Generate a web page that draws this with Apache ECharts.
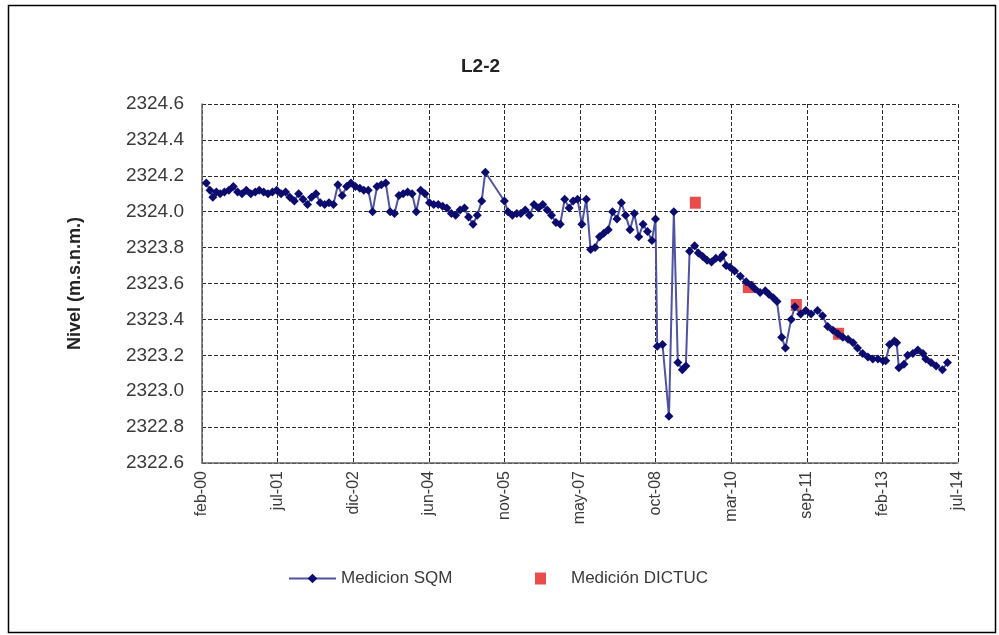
<!DOCTYPE html>
<html>
<head>
<meta charset="utf-8">
<script src="https://cdn.jsdelivr.net/npm/echarts@6/dist/echarts.min.js"></script>
<style>
  html, body { margin: 0; padding: 0; background: #fff; }
  #chart { width: 999px; height: 635px; }
</style>
</head>
<body>
<div id="chart"></div>
<script>
// Water level at well L2-2 (m.s.n.m.)
const sqmDates = [
  '2000-03-10','2000-04-05','2000-04-25','2000-05-20','2000-06-15','2000-07-15','2000-08-15','2000-09-15','2000-10-15','2000-11-15','2000-12-15',
  '2001-01-15','2001-02-15','2001-03-15','2001-04-15','2001-05-15','2001-06-15','2001-07-15','2001-08-15','2001-09-15','2001-10-15','2001-11-15','2001-12-15',
  '2002-01-15','2002-02-15','2002-03-15','2002-04-15','2002-05-15','2002-06-15','2002-07-15','2002-08-15','2002-09-15','2002-10-15','2002-11-15','2002-12-15',
  '2003-01-15','2003-02-15','2003-03-15','2003-04-15','2003-05-15','2003-06-15','2003-07-15','2003-08-15','2003-09-15','2003-10-15','2003-11-15','2003-12-15',
  '2004-01-15','2004-02-15','2004-03-15','2004-04-15','2004-05-15','2004-06-15','2004-07-15','2004-08-15','2004-09-15','2004-10-15','2004-11-15','2004-12-15',
  '2005-01-15','2005-02-15','2005-03-15','2005-04-15','2005-05-15','2005-06-15','2005-07-10','2005-11-20','2005-12-15',
  '2006-01-15','2006-02-15','2006-03-15','2006-04-15','2006-05-15','2006-06-15','2006-07-15','2006-08-15','2006-09-15','2006-10-15','2006-11-15','2006-12-15',
  '2007-01-15','2007-02-15','2007-03-15','2007-04-15','2007-05-15','2007-06-15','2007-07-15','2007-08-15','2007-09-15','2007-10-15','2007-11-15','2007-12-15',
  '2008-01-15','2008-02-15','2008-03-15','2008-04-15','2008-05-15','2008-06-15','2008-07-15','2008-08-15','2008-09-15','2008-10-10','2008-10-22','2008-11-28',
  '2009-01-12','2009-02-15','2009-03-15','2009-04-15','2009-05-10','2009-06-05','2009-07-10','2009-08-05','2009-09-05','2009-10-05','2009-11-05','2009-12-05',
  '2010-01-05','2010-01-25','2010-02-15','2010-03-15','2010-04-15','2010-05-25','2010-07-05','2010-08-10','2010-09-05','2010-10-10','2010-11-15','2010-12-10',
  '2011-01-10','2011-02-05','2011-03-10','2011-04-05','2011-05-15','2011-06-10','2011-07-20','2011-08-25','2011-10-01','2011-11-15','2011-12-20',
  '2012-01-25','2012-03-01','2012-04-05','2012-05-10','2012-06-15','2012-07-20','2012-08-20','2012-09-25','2012-11-01','2012-12-05',
  '2013-01-10','2013-02-15','2013-03-05','2013-04-01','2013-05-05','2013-05-20','2013-06-05','2013-07-10','2013-08-05','2013-09-10','2013-10-15','2013-11-20','2013-12-10',
  '2014-01-15','2014-02-20','2014-04-05','2014-05-10'
];
const sqmLevels = [
  2324.16,2324.12,2324.08,2324.11,2324.10,2324.11,2324.12,2324.14,2324.11,2324.10,2324.12,
  2324.10,2324.11,2324.12,2324.11,2324.10,2324.11,2324.12,2324.10,2324.11,2324.08,2324.06,2324.10,
  2324.07,2324.04,2324.08,2324.10,2324.05,2324.04,2324.05,2324.04,2324.15,2324.09,2324.14,2324.16,
  2324.14,2324.13,2324.12,2324.12,2324.00,2324.14,2324.15,2324.16,2324.00,2323.99,2324.09,2324.10,
  2324.11,2324.10,2324.00,2324.12,2324.10,2324.05,2324.04,2324.04,2324.03,2324.02,2323.99,2323.98,
  2324.01,2324.02,2323.97,2323.93,2323.98,2324.06,2324.22,2324.06,2324.00,
  2323.98,2323.99,2323.99,2324.01,2323.98,2324.04,2324.02,2324.04,2324.01,2323.98,2323.94,2323.93,
  2324.07,2324.02,2324.06,2324.07,2323.93,2324.07,2323.79,2323.80,2323.86,2323.88,2323.90,2324.00,
  2323.96,2324.05,2323.98,2323.90,2323.99,2323.86,2323.93,2323.89,2323.84,2323.96,2323.25,2323.26,
  2322.86,2324.00,2323.16,2323.12,2323.14,2323.78,2323.81,2323.77,2323.75,2323.73,2323.72,2323.74,
  2323.74,2323.76,2323.70,2323.69,2323.67,2323.64,2323.61,2323.59,2323.57,2323.55,2323.56,2323.54,
  2323.52,2323.50,2323.30,2323.24,2323.40,2323.47,2323.43,2323.45,2323.43,2323.45,2323.42,
  2323.36,2323.34,2323.32,2323.30,2323.29,2323.27,2323.24,2323.21,2323.19,2323.18,
  2323.18,2323.17,2323.17,2323.26,2323.28,2323.27,2323.13,2323.15,2323.20,2323.21,2323.23,2323.21,2323.18,
  2323.16,2323.14,2323.12,2323.16
];
const dictucDates = ['2009-07-15','2010-07-20','2011-06-20','2012-04-10'];
const dictucLevels = [2324.05, 2323.58, 2323.48, 2323.32];

const MESES = ['ene','feb','mar','abr','may','jun','jul','ago','sep','oct','nov','dic'];
const DAY = 86400000;
// date axis: origin and major unit in days
const AXIS_START = Date.UTC(2000, 0, 1) + 39.5 * DAY;
const TICK_DAYS = 527.7;
const TICK_COUNT = 10;

function toAxis(s) {
  const p = s.split('-').map(Number);
  return (Date.UTC(p[0], p[1] - 1, p[2]) - AXIS_START) / DAY;
}
function dateLabel(v) {
  const d = new Date(AXIS_START + v * DAY);
  return MESES[d.getUTCMonth()] + '-' + String(d.getUTCFullYear() % 100).padStart(2, '0');
}

const FONT = "'Liberation Sans', Arial, sans-serif";
const gridDash = { color: '#2a2a2a', type: [4, 2], width: 1 };

const chart = echarts.init(document.getElementById('chart'), null, { renderer: 'canvas' });
chart.setOption({
  animation: false,
  backgroundColor: '#fff',
  textStyle: { fontFamily: FONT },
  graphic: [{
    type: 'rect',
    shape: { x: 8.5, y: 5.5, width: 987, height: 627 },
    style: { fill: 'none', stroke: '#000', lineWidth: 1.5 },
    silent: true
  }],
  title: {
    text: 'L2-2',
    left: 456, top: 52,
    textStyle: { fontFamily: FONT, fontSize: 19, fontWeight: 'bold', color: '#222' }
  },
  grid: { left: 202, top: 104, right: 41, bottom: 172, containLabel: false },
  legend: [{
    data: ['Medicion SQM'],
    left: 283, top: 565,
    itemWidth: 47, itemHeight: 12, itemGap: 10,
    textStyle: { fontFamily: FONT, fontSize: 17, color: '#3a3a3a' }
  }, {
    data: ['Medición DICTUC'],
    left: 530, top: 565,
    itemWidth: 11, itemHeight: 12,
    textStyle: { fontFamily: FONT, fontSize: 17, color: '#3a3a3a', padding: [0, 0, 0, 20] }
  }],
  xAxis: {
    type: 'value',
    min: 0, max: TICK_DAYS * TICK_COUNT, interval: TICK_DAYS,
    axisLine: { show: true, lineStyle: { color: '#666', width: 1.5 } },
    axisTick: { show: false },
    splitLine: { show: true, lineStyle: gridDash },
    axisLabel: {
      rotate: 90, margin: 8,
      fontFamily: FONT, fontSize: 16, color: '#3a3a3a',
      formatter: dateLabel
    }
  },
  yAxis: {
    type: 'value',
    min: 2322.6, max: 2324.6, interval: 0.2,
    name: 'Nivel (m.s.n.m.)',
    nameLocation: 'middle', nameGap: 118, nameRotate: 90,
    nameTextStyle: { fontFamily: FONT, fontSize: 18, fontWeight: 'bold', color: '#222' },
    axisLine: { show: true, lineStyle: { color: '#666', width: 1.5 } },
    axisTick: { show: false },
    splitLine: { show: true, lineStyle: gridDash },
    axisLabel: {
      margin: 18,
      fontFamily: FONT, fontSize: 19, color: '#3a3a3a',
      formatter: v => v.toFixed(1)
    }
  },
  series: [{
    name: 'Medición DICTUC',
    type: 'scatter',
    symbol: 'rect', symbolSize: [11, 12],
    itemStyle: { color: '#e2211f' },
    data: dictucDates.map((d, i) => [toAxis(d), dictucLevels[i]])
  }, {
    name: 'Medicion SQM',
    type: 'line',
    symbol: 'diamond', symbolSize: 9,
    showAllSymbol: true,
    itemStyle: { color: '#0c0c6e' },
    lineStyle: { color: '#4f53a0', width: 2 },
    data: sqmDates.map((d, i) => [toAxis(d), sqmLevels[i]])
  }]
});
</script>
</body>
</html>
